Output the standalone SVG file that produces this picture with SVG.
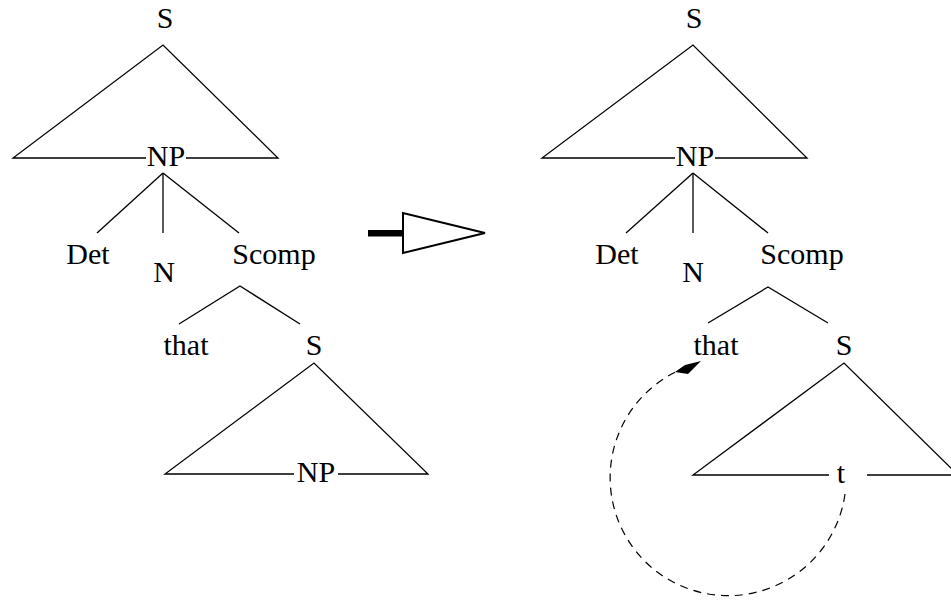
<svg xmlns="http://www.w3.org/2000/svg" width="951" height="600" viewBox="0 0 951 600">
<style>
  .t { font-family: "Liberation Serif", "Times New Roman", serif; font-size: 30px; fill: #000; text-anchor: middle; }
  .l { stroke: #000; stroke-width: 1.3; fill: none; stroke-linecap: butt; }
  .d { stroke: #000; stroke-width: 1.2; fill: none; stroke-dasharray: 8 6; }
</style>
<rect width="951" height="600" fill="#fff"/>
<g id="left-tree">
  <g id="L-S1"><text class="t" x="165" y="28">S</text></g>
  <g id="L-NP1"><text class="t" x="166" y="166">NP</text></g>
  <g id="L-Det"><text class="t" x="88" y="264">Det</text></g>
  <g id="L-N"><text class="t" x="164" y="282">N</text></g>
  <g id="L-Scomp"><text class="t" x="274" y="264">Scomp</text></g>
  <g id="L-that"><text class="t" x="186" y="355">that</text></g>
  <g id="L-S2"><text class="t" x="314" y="355">S</text></g>
  <g id="L-NP2"><text class="t" x="316" y="482">NP</text></g>
</g>
<g id="right-tree">
  <g id="R-S1"><text class="t" x="694" y="28">S</text></g>
  <g id="R-NP1"><text class="t" x="695" y="166">NP</text></g>
  <g id="R-Det"><text class="t" x="617" y="264">Det</text></g>
  <g id="R-N"><text class="t" x="693" y="282">N</text></g>
  <g id="R-Scomp"><text class="t" x="802" y="264">Scomp</text></g>
  <g id="R-that"><text class="t" x="716" y="355">that</text></g>
  <g id="R-S2"><text class="t" x="844" y="355">S</text></g>
  <g id="R-t"><text class="t" x="841" y="483">t</text></g>
</g>
<g id="connectors">
  <!-- left tree -->
  <polyline class="l" points="146,158 13,158 163,45 278,158 186,158"/>
  <line class="l" x1="163" y1="173" x2="97" y2="233"/>
  <line class="l" x1="163" y1="173" x2="163" y2="233"/>
  <line class="l" x1="163" y1="173" x2="239" y2="233"/>
  <polyline class="l" points="179,324 240,286 300,324"/>
  <polyline class="l" points="294,474 165,474 314,363 428,474 338,474"/>
  <!-- transformation arrow -->
  <rect x="368" y="230" width="35" height="6.5" fill="#000"/>
  <polygon points="403,213 403,253 485,233" fill="#fff" stroke="#000" stroke-width="2"/>
  <!-- right tree -->
  <polyline class="l" points="675,158 542,158 693,45 807,158 715,158"/>
  <line class="l" x1="693" y1="173" x2="626" y2="233"/>
  <line class="l" x1="693" y1="173" x2="693" y2="233"/>
  <line class="l" x1="693" y1="173" x2="768" y2="233"/>
  <polyline class="l" points="708,323 768,287 828,323"/>
  <polyline class="l" points="829,475 693,475 844,363 958,475 867,475"/>
  <!-- movement arc -->
  <path class="d" d="M845,494 A118 118 0 1 1 690,366"/>
  <polygon points="675,372 685,365 701,361 688,374" fill="#000"/>
</g>
</svg>
